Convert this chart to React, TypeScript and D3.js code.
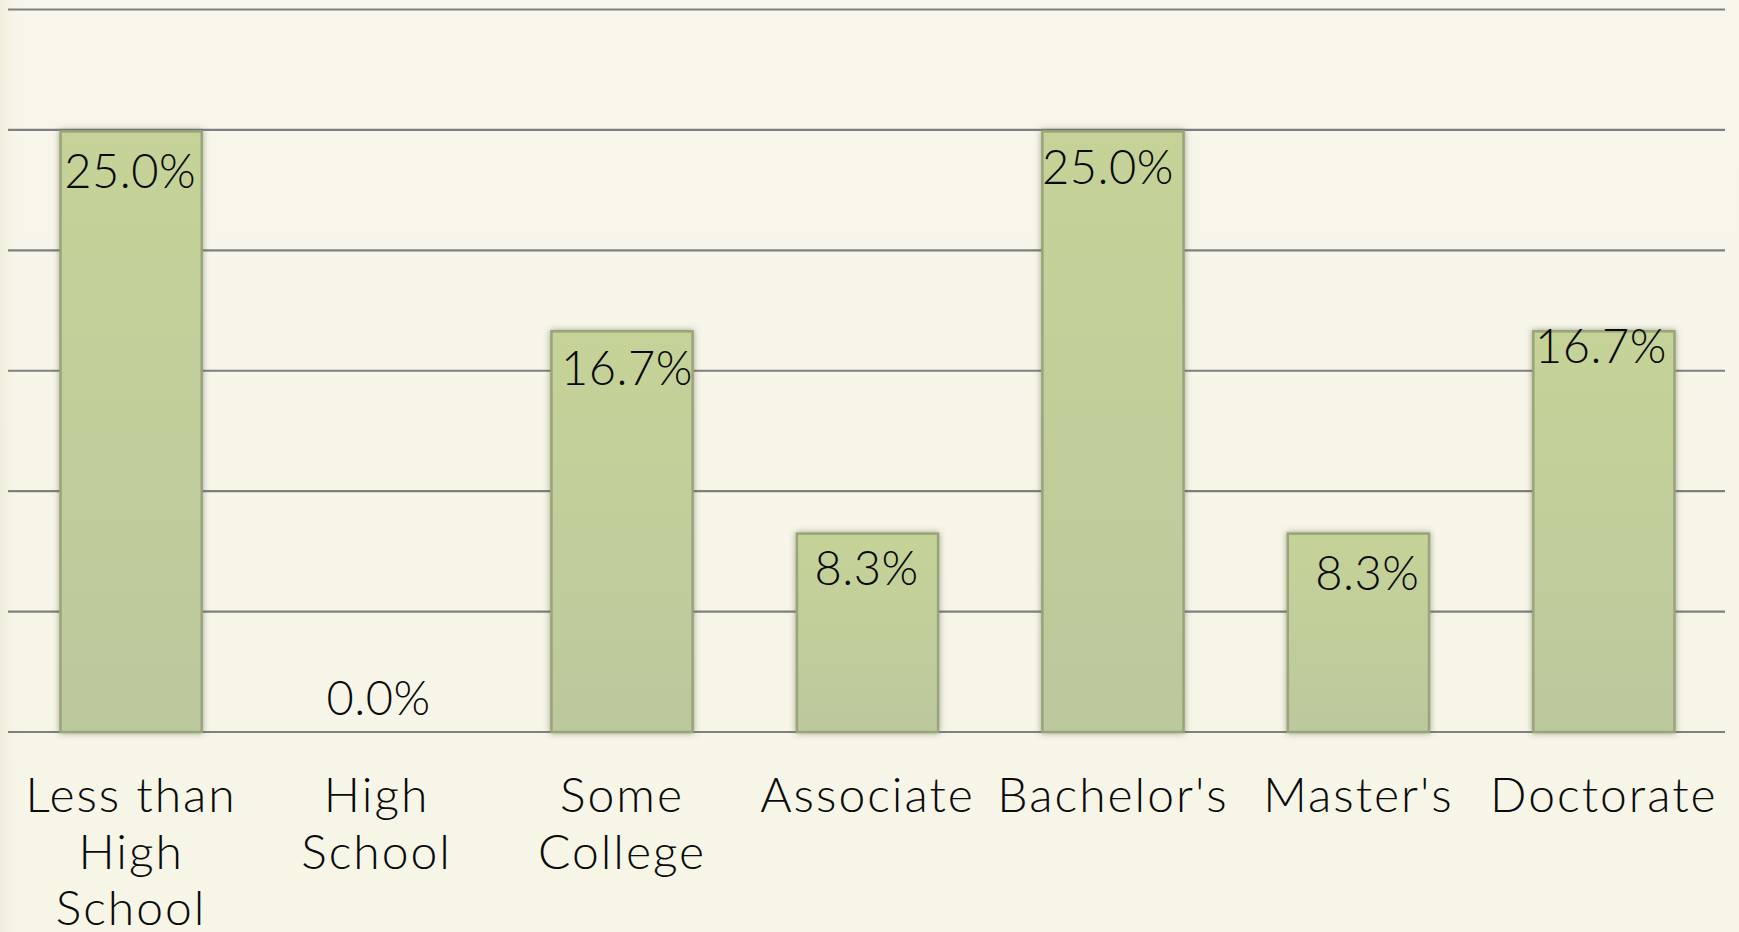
import React from "react";
import * as d3 from "d3";

const categories: string[][] = [
  ["Less than", "High", "School"],
  ["High", "School"],
  ["Some", "College"],
  ["Associate"],
  ["Bachelor's"],
  ["Master's"],
  ["Doctorate"],
];
const values: number[] = [25.0, 0.0, 16.7, 8.3, 25.0, 8.3, 16.7];
const yTicks: number[] = [0, 5, 10, 15, 20, 25, 30];

const W = 1739;
const H = 932;
// label nudges (rendering only)
const labelDx = [-1, 2, 5, -1, -5, 9, -3];
const labelDy = [58, 0, 55, 53, 54, 58, 33];

export default function App() {
  const x = d3.scaleBand<number>().domain(d3.range(values.length)).range([9, 1726]).paddingInner(0.425).paddingOuter(0.21);
  const y = d3.scaleLinear().domain([0, 30]).range([732, 9.5]);
  const font = "Lato, 'Open Sans', sans-serif";
  return (
    <svg width={W} height={H} style={{ position: "absolute", left: 0, top: 0 }} fontFamily={font}>
      <defs>
        <linearGradient id="bg" x1="0" y1="0" x2="0" y2="1">
          <stop offset="0" stopColor="#F8F6EB" />
          <stop offset="1" stopColor="#F6F5E6" />
        </linearGradient>
        <linearGradient id="bgL" x1="0" y1="0" x2="1" y2="0">
          <stop offset="0" stopColor="#EFEDDC" stopOpacity="1" />
          <stop offset="1" stopColor="#F8F6EB" stopOpacity="0" />
        </linearGradient>
        <linearGradient id="bar" x1="0" y1="0" x2="0" y2="1">
          <stop offset="0" stopColor="#C5D398" />
          <stop offset="1" stopColor="#BCC89D" />
        </linearGradient>
        <filter id="sh" x="-10%" y="-5%" width="120%" height="110%">
          <feDropShadow dx="0" dy="0" stdDeviation="3" floodColor="#5a5a40" floodOpacity="0.55" />
        </filter>
      </defs>
      <rect x={0} y={0} width={W} height={H} fill="url(#bg)" />
      <rect x={0} y={0} width={24} height={H} fill="url(#bgL)" />
      {yTicks.map((t) => (
        <line key={t} x1={8} x2={1725} y1={y(t)} y2={y(t)} stroke="#7F7F7F" strokeWidth={2.2} />
      ))}
      {values.map((v, i) =>
        v > 0 ? (
          <rect
            key={i}
            x={x(i)!}
            y={y(v) + 1.5}
            width={x.bandwidth()}
            height={y(0) - y(v) - 1.5}
            fill="url(#bar)"
            stroke="#98A479"
            strokeWidth={2.5}
            filter="url(#sh)"
          />
        ) : null
      )}
      {values.map((v, i) => (
        <text
          key={"l" + i}
          x={x(i)! + x.bandwidth() / 2 + labelDx[i]}
          y={v > 0 ? y(v) + labelDy[i] : y(0) - 17}
          textAnchor="middle"
          fontSize={47}
          fontWeight={300}
          letterSpacing={0.5}
          fill="#0a0a0a"
        >
          {v.toFixed(1) + "%"}
        </text>
      ))}
      {categories.map((lines, i) => (
        <text key={"c" + i} textAnchor="middle" fontSize={48} fontWeight={300} letterSpacing={2} fill="#0a0a0a">
          {lines.map((ln, j) => (
            <tspan key={j} x={x(i)! + x.bandwidth() / 2} y={812 + j * 56.5}>
              {ln}
            </tspan>
          ))}
        </text>
      ))}
    </svg>
  );
}
